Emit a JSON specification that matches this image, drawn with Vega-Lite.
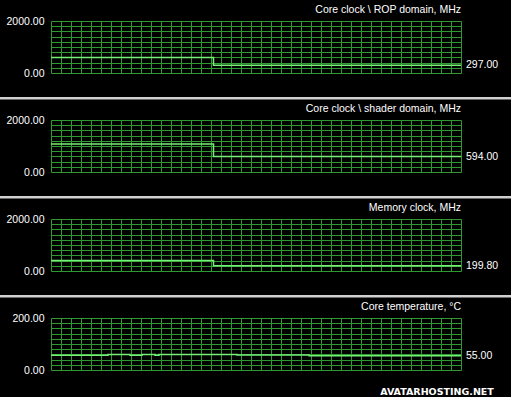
{
  "$schema": "https://vega.github.io/schema/vega-lite/v6.json",
  "background": "#000000",
  "padding": {"top": 4, "left": 0, "right": 0, "bottom": 0},
  "datasets": {
    "series": [
      {"panel": "rop", "t": 0, "v": 600},
      {"panel": "rop", "t": 16.25, "v": 297},
      {"panel": "rop", "t": 41, "v": 297},
      {"panel": "shader", "t": 0, "v": 1080},
      {"panel": "shader", "t": 16.25, "v": 594},
      {"panel": "shader", "t": 41, "v": 594},
      {"panel": "mem", "t": 0, "v": 400},
      {"panel": "mem", "t": 16.25, "v": 199.8},
      {"panel": "mem", "t": 41, "v": 199.8},
      {"panel": "temp", "t": 0, "v": 57},
      {"panel": "temp", "t": 5.7, "v": 60},
      {"panel": "temp", "t": 7.9, "v": 57},
      {"panel": "temp", "t": 9.1, "v": 60},
      {"panel": "temp", "t": 10.4, "v": 57},
      {"panel": "temp", "t": 10.8, "v": 60},
      {"panel": "temp", "t": 18.6, "v": 58},
      {"panel": "temp", "t": 25.8, "v": 55},
      {"panel": "temp", "t": 41, "v": 55}
    ],
    "labels": [
      {"panel": "rop", "t": 41, "v": 297},
      {"panel": "shader", "t": 41, "v": 594},
      {"panel": "mem", "t": 41, "v": 199.8},
      {"panel": "temp", "t": 41, "v": 55}
    ]
  },
  "config": {
    "font": "Liberation Sans",
    "view": {"stroke": null},
    "axis": {
      "domain": false,
      "ticks": false,
      "title": null,
      "labelColor": "#ffffff",
      "labelFont": "Liberation Sans",
      "labelFontSize": 10.5,
      "gridColor": "#2f9a2f",
      "gridOpacity": 1,
      "gridWidth": 1,
      "labelOverlap": false,
      "tickCount": 200
    },
    "title": {
      "color": "#ffffff",
      "font": "Liberation Sans",
      "fontSize": 10.5,
      "fontWeight": "normal",
      "anchor": "end",
      "baseline": "alphabetic",
      "offset": 1,
      "frame": "group"
    }
  },
  "spacing": 47,
  "bounds": "flush",
  "resolve": {"scale": {"y": "independent", "x": "independent"}},
  "vconcat": [
    {
      "width": 410, "height": 52,
      "title": "Core clock \\ ROP domain, MHz",
      "layer": [
        {
          "data": {"name": "series"},
          "transform": [{"filter": "datum.panel == 'rop'"}],
          "mark": {"type": "line", "interpolate": "step-after", "color": "#74f074", "strokeWidth": 1.5},
          "encoding": {
            "x": {"field": "t", "type": "quantitative", "scale": {"domain": [0, 41], "nice": false, "zero": false},
                  "axis": {"values": [0,1,2,3,4,5,6,7,8,9,10,11,12,13,14,15,16,17,18,19,20,21,22,23,24,25,26,27,28,29,30,31,32,33,34,35,36,37,38,39,40,41], "labels": false, "grid": true, "tickCount": 200}},
            "y": {"field": "v", "type": "quantitative", "scale": {"domain": [0, 2000], "nice": false},
                  "axis": {"values": [0,200,400,600,800,1000,1200,1400,1600,1800,2000], "grid": true, "labelPadding": 7, "tickCount": 200,
                           "labelExpr": "datum.value == 0 || datum.value == 2000 ? format(datum.value, '.2f') : ''"}}
          }
        },
        {
          "data": {"name": "labels"},
          "transform": [{"filter": "datum.panel == 'rop'"}],
          "mark": {"type": "text", "align": "left", "baseline": "middle", "dx": 5, "color": "#ffffff", "fontSize": 10.5, "clip": false},
          "encoding": {
            "x": {"field": "t", "type": "quantitative"},
            "y": {"field": "v", "type": "quantitative"},
            "text": {"field": "v", "type": "quantitative", "format": ".2f"}
          }
        },
        {
          "data": {"values": [{}]},
          "mark": {"type": "rect", "color": "#d0d0d0", "clip": false},
          "encoding": {"x": {"datum": -5.1}, "x2": {"datum": 46}, "y": {"datum": -921}, "y2": {"datum": -1017}}
        }
      ]
    },
    {
      "width": 410, "height": 52,
      "title": "Core clock \\ shader domain, MHz",
      "layer": [
        {
          "data": {"name": "series"},
          "transform": [{"filter": "datum.panel == 'shader'"}],
          "mark": {"type": "line", "interpolate": "step-after", "color": "#74f074", "strokeWidth": 1.5},
          "encoding": {
            "x": {"field": "t", "type": "quantitative", "scale": {"domain": [0, 41], "nice": false, "zero": false},
                  "axis": {"values": [0,1,2,3,4,5,6,7,8,9,10,11,12,13,14,15,16,17,18,19,20,21,22,23,24,25,26,27,28,29,30,31,32,33,34,35,36,37,38,39,40,41], "labels": false, "grid": true, "tickCount": 200}},
            "y": {"field": "v", "type": "quantitative", "scale": {"domain": [0, 2000], "nice": false},
                  "axis": {"values": [0,200,400,600,800,1000,1200,1400,1600,1800,2000], "grid": true, "labelPadding": 7, "tickCount": 200,
                           "labelExpr": "datum.value == 0 || datum.value == 2000 ? format(datum.value, '.2f') : ''"}}
          }
        },
        {
          "data": {"name": "labels"},
          "transform": [{"filter": "datum.panel == 'shader'"}],
          "mark": {"type": "text", "align": "left", "baseline": "middle", "dx": 5, "color": "#ffffff", "fontSize": 10.5, "clip": false},
          "encoding": {
            "x": {"field": "t", "type": "quantitative"},
            "y": {"field": "v", "type": "quantitative"},
            "text": {"field": "v", "type": "quantitative", "format": ".2f"}
          }
        },
        {
          "data": {"values": [{}]},
          "mark": {"type": "rect", "color": "#d0d0d0", "clip": false},
          "encoding": {"x": {"datum": -5.1}, "x2": {"datum": 46}, "y": {"datum": -921}, "y2": {"datum": -1017}}
        }
      ]
    },
    {
      "width": 410, "height": 52,
      "title": "Memory clock, MHz",
      "layer": [
        {
          "data": {"name": "series"},
          "transform": [{"filter": "datum.panel == 'mem'"}],
          "mark": {"type": "line", "interpolate": "step-after", "color": "#74f074", "strokeWidth": 1.5},
          "encoding": {
            "x": {"field": "t", "type": "quantitative", "scale": {"domain": [0, 41], "nice": false, "zero": false},
                  "axis": {"values": [0,1,2,3,4,5,6,7,8,9,10,11,12,13,14,15,16,17,18,19,20,21,22,23,24,25,26,27,28,29,30,31,32,33,34,35,36,37,38,39,40,41], "labels": false, "grid": true, "tickCount": 200}},
            "y": {"field": "v", "type": "quantitative", "scale": {"domain": [0, 2000], "nice": false},
                  "axis": {"values": [0,200,400,600,800,1000,1200,1400,1600,1800,2000], "grid": true, "labelPadding": 7, "tickCount": 200,
                           "labelExpr": "datum.value == 0 || datum.value == 2000 ? format(datum.value, '.2f') : ''"}}
          }
        },
        {
          "data": {"name": "labels"},
          "transform": [{"filter": "datum.panel == 'mem'"}],
          "mark": {"type": "text", "align": "left", "baseline": "middle", "dx": 5, "color": "#ffffff", "fontSize": 10.5, "clip": false},
          "encoding": {
            "x": {"field": "t", "type": "quantitative"},
            "y": {"field": "v", "type": "quantitative"},
            "text": {"field": "v", "type": "quantitative", "format": ".2f"}
          }
        },
        {
          "data": {"values": [{}]},
          "mark": {"type": "rect", "color": "#d0d0d0", "clip": false},
          "encoding": {"x": {"datum": -5.1}, "x2": {"datum": 46}, "y": {"datum": -921}, "y2": {"datum": -1017}}
        }
      ]
    },
    {
      "width": 410, "height": 52,
      "title": "Core temperature, °C",
      "layer": [
        {
          "data": {"name": "series"},
          "transform": [{"filter": "datum.panel == 'temp'"}],
          "mark": {"type": "line", "interpolate": "step-after", "color": "#74f074", "strokeWidth": 1.5},
          "encoding": {
            "x": {"field": "t", "type": "quantitative", "scale": {"domain": [0, 41], "nice": false, "zero": false},
                  "axis": {"values": [0,1,2,3,4,5,6,7,8,9,10,11,12,13,14,15,16,17,18,19,20,21,22,23,24,25,26,27,28,29,30,31,32,33,34,35,36,37,38,39,40,41], "labels": false, "grid": true, "tickCount": 200}},
            "y": {"field": "v", "type": "quantitative", "scale": {"domain": [0, 200], "nice": false},
                  "axis": {"values": [0,20,40,60,80,100,120,140,160,180,200], "grid": true, "labelPadding": 7, "tickCount": 200,
                           "labelExpr": "datum.value == 0 || datum.value == 200 ? format(datum.value, '.2f') : ''"}}
          }
        },
        {
          "data": {"name": "labels"},
          "transform": [{"filter": "datum.panel == 'temp'"}],
          "mark": {"type": "text", "align": "left", "baseline": "middle", "dx": 5, "color": "#ffffff", "fontSize": 10.5, "clip": false},
          "encoding": {
            "x": {"field": "t", "type": "quantitative"},
            "y": {"field": "v", "type": "quantitative"},
            "text": {"field": "v", "type": "quantitative", "format": ".2f"}
          }
        },
        {
          "data": {"values": [{"mark": "AVATARHOSTING.NET", "t": 38.6, "v": -85}]},
          "mark": {"type": "text", "align": "center", "baseline": "middle", "color": "#ffffff", "font": "DejaVu Sans", "fontWeight": "bold", "fontSize": 9.5, "clip": false},
          "encoding": {
            "x": {"field": "t", "type": "quantitative"},
            "y": {"field": "v", "type": "quantitative"},
            "text": {"field": "mark"}
          }
        }
      ]
    }
  ]
}
